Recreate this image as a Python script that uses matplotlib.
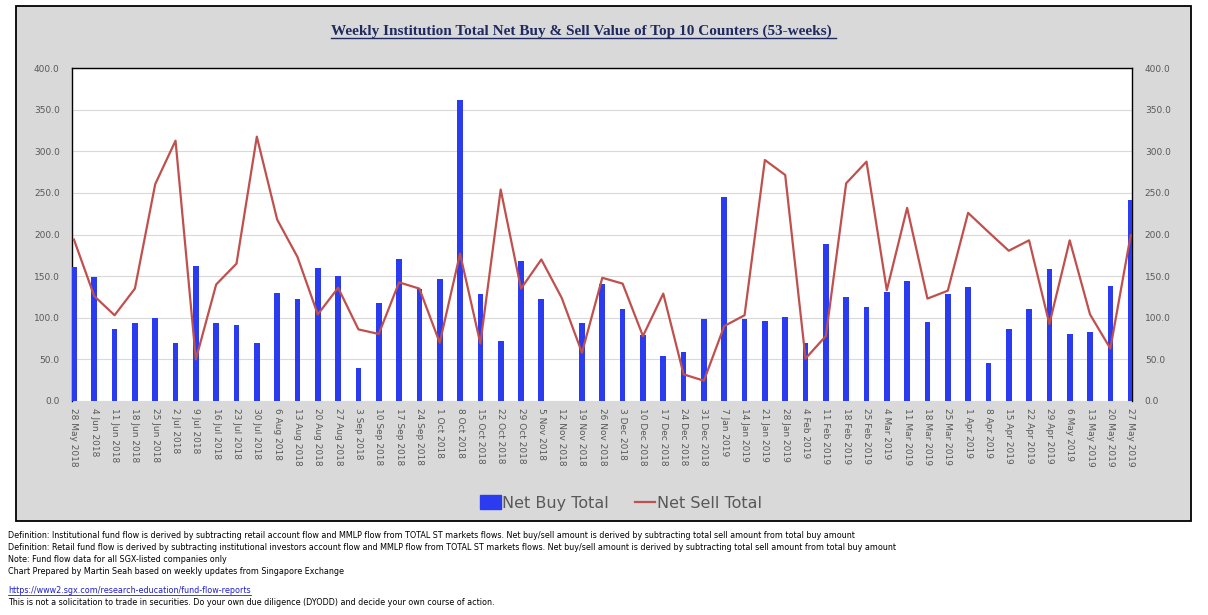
import numpy as np
import matplotlib
matplotlib.use("Agg")
import matplotlib.pyplot as plt
from matplotlib.patches import Rectangle, Patch
from matplotlib.lines import Line2D

W, H = 1208, 615
DPI = 100

# ---------------- data ----------------
weeks = ["28 May 2018", "4 Jun 2018", "11 Jun 2018", "18 Jun 2018", "25 Jun 2018",
         "2 Jul 2018", "9 Jul 2018", "16 Jul 2018", "23 Jul 2018", "30 Jul 2018",
         "6 Aug 2018", "13 Aug 2018", "20 Aug 2018", "27 Aug 2018", "3 Sep 2018",
         "10 Sep 2018", "17 Sep 2018", "24 Sep 2018", "1 Oct 2018", "8 Oct 2018",
         "15 Oct 2018", "22 Oct 2018", "29 Oct 2018", "5 Nov 2018", "12 Nov 2018",
         "19 Nov 2018", "26 Nov 2018", "3 Dec 2018", "10 Dec 2018", "17 Dec 2018",
         "24 Dec 2018", "31 Dec 2018", "7 Jan 2019", "14 Jan 2019", "21 Jan 2019",
         "28 Jan 2019", "4 Feb 2019", "11 Feb 2019", "18 Feb 2019", "25 Feb 2019",
         "4 Mar 2019", "11 Mar 2019", "18 Mar 2019", "25 Mar 2019", "1 Apr 2019",
         "8 Apr 2019", "15 Apr 2019", "22 Apr 2019", "29 Apr 2019", "6 May 2019",
         "13 May 2019", "20 May 2019", "27 May 2019"]

net_buy = [161, 148.5, 87, 94, 100, 70, 162.5, 94, 91, 70,
           130, 123, 160, 150.5, 40, 118, 171, 135, 146, 362,
           129, 72, 168, 122, None, 94, 141, 111, 79, 54,
           59, 98, 244.5, 99, 96, 101, 70, 189, 125, 113,
           131, 144.5, 95, 129, 137, 46, 87, 111, 159, 81,
           83, 138.5, 242]

net_sell = [194, 126, 103, 135, 260.5, 312.7, 50, 140, 165, 317.5,
            218, 173, 104, 136, 86, 80.5, 142.5, 135, 70, 177,
            69, 254, 135, 170, 124, 58, 148, 141, 78, 129,
            32, 24.4, 90, 103, 289.5, 271.5, 51, 78, 261.5, 287.5,
            133, 232, 123, 132.5, 226, 203, 180.5, 193, 92.5, 193,
            104, 63, 199]

y_ticks = [0, 50, 100, 150, 200, 250, 300, 350, 400]

title = "Weekly Institution Total Net Buy & Sell Value of Top 10 Counters (53-weeks) "
footer_lines = [
    "Definition: Institutional fund flow is derived by subtracting retail account flow and MMLP flow from TOTAL ST markets flows. Net buy/sell amount is derived by subtracting total sell amount from total buy amount",
    "Definition: Retail fund flow is derived by subtracting institutional investors account flow and MMLP flow from TOTAL ST markets flows. Net buy/sell amount is derived by subtracting total sell amount from total buy amount",
    "Note: Fund flow data for all SGX-listed companies only",
    "Chart Prepared by Martin Seah based on weekly updates from Singapore Exchange",
]
link = "https://www2.sgx.com/research-education/fund-flow-reports"
disclaimer = "This is not a solicitation to trade in securities. Do your own due diligence (DYODD) and decide your own course of action."

# ---------------- styling ----------------
BLUE = "#2B3BF0"
RED = "#C0504D"
GRAY_BG = "#D9D9D9"
TXT = "#595959"
NAVY = "#1F2A60"

def fx(px):
    return px / W

def fy(py):
    return 1 - py / H

fig = plt.figure(figsize=(W / DPI, H / DPI), dpi=DPI, facecolor="white")

# chart area background
bg = Rectangle((fx(16), fy(521)), fx(1191) - fx(16), fy(6) - fy(521),
               transform=fig.transFigure, facecolor=GRAY_BG,
               edgecolor="black", linewidth=1.3, zorder=-10)
fig.patches.append(bg)

ax = fig.add_axes([fx(72.3), fy(401), fx(1132.3) - fx(72.3), fy(68) - fy(401)])
ax.set_zorder(2)
ax.set_facecolor("white")
x = np.arange(len(weeks))
buy = np.array([np.nan if v is None else v for v in net_buy], dtype=float)
ax.bar(x, np.nan_to_num(buy), width=0.28, color=BLUE, zorder=3)
ax.plot(x, net_sell, color=RED, linewidth=1.6, zorder=4)

ax.set_xlim(-0.08, len(weeks) - 1 + 0.08)
ax.set_ylim(0, 400)
ax.set_yticks(y_ticks)
ax.set_yticklabels([f"{v:.1f}" for v in y_ticks])
ax.yaxis.grid(True, color="#D9D9D9", linewidth=0.8, zorder=0)
ax.set_axisbelow(True)
ax.tick_params(axis="y", length=0, pad=9, labelsize=6.5, labelcolor=TXT,
               labelleft=True, labelright=True)
ax.set_xticks(x)
ax.set_xticklabels(weeks, rotation=-90, fontsize=6.5, color=TXT)
ax.tick_params(axis="x", length=0, pad=5)
for s in ["left", "top", "right"]:
    ax.spines[s].set_color("black")
    ax.spines[s].set_linewidth(1.0)
ax.spines["bottom"].set_visible(False)

# legend
handles = [Patch(facecolor=BLUE, edgecolor=BLUE),
           Line2D([0], [0], color=RED, linewidth=1.6)]
leg = fig.legend(handles, ["Net Buy Total", "Net Sell Total"], loc="center",
                 bbox_to_anchor=(fx(621), fy(503)), ncol=2, frameon=False,
                 fontsize=11.5, handlelength=1.3, handleheight=0.9,
                 handletextpad=0.1, columnspacing=1.6)
leg.set_zorder(3)
for t in leg.get_texts():
    t.set_color(TXT)

renderer = fig.canvas.get_renderer()

def fit_text(s, x0, base_y, target_w, family, weight="normal", color="black", start=10):
    t = fig.text(fx(x0), fy(base_y), s, fontsize=start, family=family,
                 weight=weight, color=color, ha="left", va="baseline", zorder=5)
    w = t.get_window_extent(renderer).width
    t.set_fontsize(start * target_w / w)
    return t

# title
tt = fit_text(title, 331, 34.5, 503, "Liberation Serif", weight="bold", color=NAVY, start=13)
bb = tt.get_window_extent(renderer)
fig.add_artist(Line2D([fx(bb.x0), fx(bb.x1)], [fy(37.5), fy(37.5)],
                      transform=fig.transFigure, color=NAVY, linewidth=1.0, zorder=5))

# footer
f0 = fit_text(footer_lines[0], 8, 538.3, 854, "DejaVu Sans", start=6.5)
fs = f0.get_fontsize()
bases = [538.3, 549.7, 561.5, 574.5]
for s, b in zip(footer_lines[1:], bases[1:]):
    fig.text(fx(8), fy(b), s, fontsize=fs, family="DejaVu Sans",
             color="black", ha="left", va="baseline")
lt = fig.text(fx(8), fy(593.3), link, fontsize=fs, family="DejaVu Sans",
              color="#1F1FCC", ha="left", va="baseline")
lb = lt.get_window_extent(renderer)
fig.add_artist(Line2D([fx(lb.x0), fx(lb.x1)], [fy(594.8), fy(594.8)],
                      transform=fig.transFigure, color="#1F1FCC", linewidth=0.6))
fig.text(fx(8), fy(605), disclaimer, fontsize=fs, family="DejaVu Sans",
         color="black", ha="left", va="baseline")

fig.savefig("out.png", dpi=DPI, facecolor="white")
